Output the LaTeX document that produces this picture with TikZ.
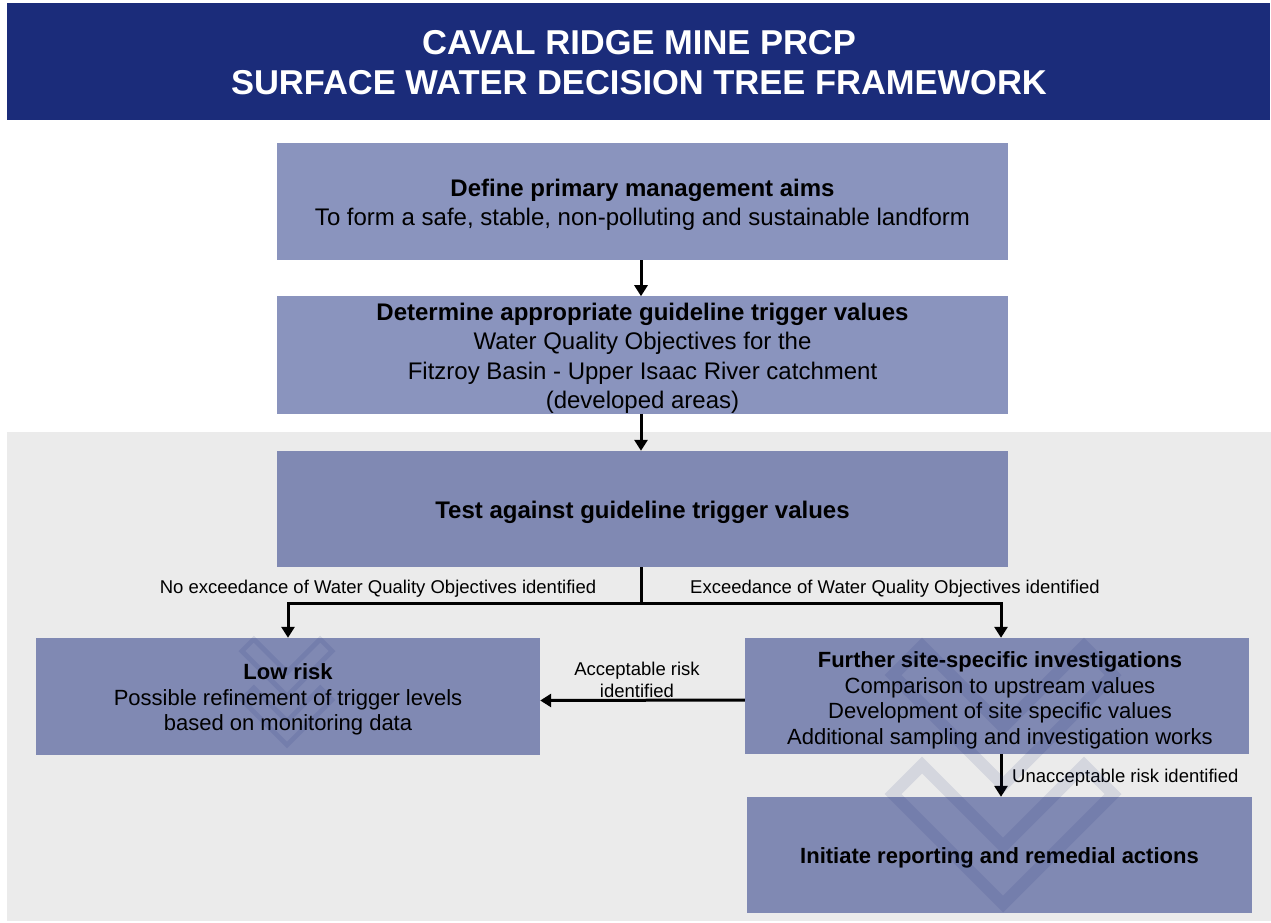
\documentclass[tikz,border=0pt]{standalone}
\usepackage{fontspec}
\setmainfont{Liberation Sans}
\usetikzlibrary{arrows.meta}

\definecolor{navy}{HTML}{1B2C7A}
\definecolor{boxlight}{HTML}{8A94BE}
\definecolor{boxdark}{HTML}{8089B3}
\definecolor{panelgray}{HTML}{EBEBEB}

\newcommand\titlesize{\fontsize{34.5}{40}\selectfont}
\newcommand\bigsize{\fontsize{24}{29.4}\selectfont}
\newcommand\midsize{\fontsize{22}{25.5}\selectfont}
\newcommand\lblsize{\fontsize{18.5}{22}\selectfont}
% taller first line, so that each block of box text sits a little lower
\newcommand\firstline{\rule{0pt}{1em}}

% two stacked chevron outlines used as a faint watermark
\tikzset{markline/.style={navy, draw opacity=0.11, line join=miter}}
\newcommand\chevronmark[3]{%
  \begin{scope}[shift={(#1,#2)}, scale=#3]
    \draw[markline, line width={#3*12pt}]
      (0,0) -- (-110,-110) -- (-81,-139) -- (0,-58)
      -- (81,-139) -- (110,-110) -- cycle;
    \draw[markline, line width={#3*12pt}]
      (0,-119) -- (-110,-229) -- (-81,-258) -- (0,-177)
      -- (81,-258) -- (110,-229) -- cycle;
  \end{scope}}

\tikzset{
  box/.style={rectangle, inner sep=0pt, align=center, text=black},
  topbox/.style={box, fill=boxlight, minimum width=731pt, minimum height=117pt, font=\bigsize},
  testbox/.style={box, fill=boxdark, minimum width=731pt, minimum height=116pt, font=\bigsize},
  sidebox/.style={box, fill=boxdark, minimum width=504pt, minimum height=116pt, font=\midsize},
  conn/.style={line width=3pt},
  arr/.style={conn, -{Triangle[width=13pt,length=11pt]}},
  lbl/.style={inner sep=0pt, font=\lblsize, align=center}
}

\begin{document}
\begin{tikzpicture}[x=1pt, y=-1pt]
  \useasboundingbox (0,0) rectangle (1271,923);
  \fill[white] (0,0) rectangle (1271,923);

  % header band
  \fill[navy] (7,3) rectangle (1270,120);
  \node[inner sep=0pt, text=white, font=\titlesize\bfseries, anchor=base] (title1) at (639,54.5) {CAVAL RIDGE MINE PRCP};
  \node[inner sep=0pt, text=white, font=\titlesize\bfseries, anchor=base] (title2) at (639,94.5) {SURFACE WATER DECISION TREE FRAMEWORK};

  % grey panel behind the testing stage
  \fill[panelgray] (7,432) rectangle (1271,921);

  % steps
  \node[topbox] (aims) at (642.5,201.5) {\firstline\textbf{Define primary management aims}\\To form a safe, stable, non-polluting and sustainable landform};
  \node[topbox, minimum height=116pt] (gtv) at (642.5,355) {\firstline\textbf{Determine appropriate guideline trigger values}\\Water Quality Objectives for the\\Fitzroy Basin - Upper Isaac River catchment\\(developed areas)};
  \node[testbox] (test) at (642.5,509) {\firstline\textbf{Test against guideline trigger values}};
  \node[sidebox, minimum height=117pt] (low) at (288,696.5) {\firstline\textbf{Low risk}\\Possible refinement of trigger levels\\based on monitoring data};
  \node[sidebox] (further) at (997,696) {\rule{0pt}{1.1em}\hspace*{6pt}\textbf{Further site-specific investigations}\\\hspace*{6pt}Comparison to upstream values\\\hspace*{6pt}Development of site specific values\\\hspace*{6pt}Additional sampling and investigation works};
  \node[sidebox, minimum width=505pt] (remedial) at (999.5,855) {\firstline\textbf{Initiate reporting and remedial actions}};

  % connectors
  \draw[arr] ([xshift=-1.5pt]aims.south) -- ([xshift=-1.5pt]gtv.north);
  \draw[arr] ([xshift=-1.5pt]gtv.south) -- ([xshift=-1.5pt]test.north);
  \draw[conn] ([xshift=-1.5pt]test.south) -- ++(0,36) coordinate (fork);
  \draw[conn, {Triangle[width=13pt,length=11pt]}-{Triangle[width=13pt,length=11pt]}]
    (low.north) |- (fork) -| ([xshift=4pt]further.north);
  \draw[arr] ([yshift=-4pt]further.west) -- ([yshift=-4pt]low.east);
  \draw[arr] ([xshift=4pt]further.south) -- ([xshift=4pt]further.south |- remedial.north);

  % connector labels
  \node[lbl] (noexc) at (378,589) {No exceedance of Water Quality Objectives identified};
  \node[lbl] (exc) at (895,589) {Exceedance of Water Quality Objectives identified};
  \node[lbl] (accept) at (637,680) {Acceptable risk\\identified};
  \node[lbl, anchor=west] (unaccept) at (1012,778) {Unacceptable risk identified};

  % watermarks
  \chevronmark{287}{745}{0.41}
  \chevronmark{1003}{904}{1}
\end{tikzpicture}
\end{document}
